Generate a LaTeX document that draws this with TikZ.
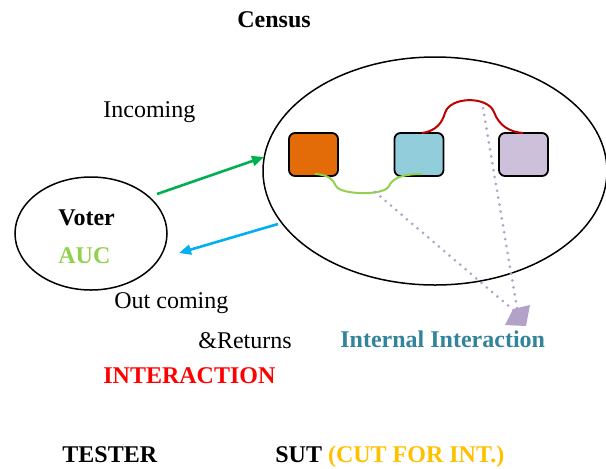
\documentclass[tikz,border=0pt]{standalone}
\usepackage{fontspec}
\setmainfont{Liberation Serif}
\usetikzlibrary{arrows.meta,shapes.geometric}

\definecolor{boxorange}{HTML}{E36C09}
\definecolor{boxblue}{HTML}{92CDDC}
\definecolor{boxlilac}{HTML}{CCC0DA}
\definecolor{linkred}{HTML}{C00000}
\definecolor{linkgreen}{HTML}{92D050}
\definecolor{lavender}{HTML}{B3A2C7}
\definecolor{ingreen}{HTML}{00B050}
\definecolor{outblue}{HTML}{00B0F0}
\definecolor{teal}{HTML}{31849B}
\definecolor{amber}{HTML}{FFC000}
\definecolor{alertred}{HTML}{FF0000}

\tikzset{
  txt/.style={anchor=base west, inner sep=0pt, font=\fontsize{12}{14}\selectfont},
  btxt/.style={txt, font=\fontsize{12}{14}\selectfont\bfseries},
  unit/.style={draw=black, line width=0.9pt, rounded corners=3pt,
               minimum width=24.5pt, minimum height=21.5pt, inner sep=0pt},
  oval/.style={draw=black, line width=0.75pt, ellipse, inner sep=0pt},
  flow/.style={line width=1.3pt, -{Triangle[length=6pt,width=5pt]}},
  wire/.style={line width=1pt},
  dots/.style={lavender, line width=1.5pt, line cap=round, dash pattern=on 0pt off 3.5pt}
}

\begin{document}
\begin{tikzpicture}[x=0.5pt,y=-0.5pt]
  \useasboundingbox (0,0) rectangle (606,468);

  % system under test and tester
  \node[oval, minimum width=172pt, minimum height=114pt] (sut) at (435,171) {};
  \node[oval, minimum width=76pt, minimum height=56.5pt] (tester) at (91,233.5) {};

  % components inside the system
  \node[unit, fill=boxorange] (c1) at (313.5,154.5) {};
  \node[unit, fill=boxblue]   (c2) at (419,154.5) {};
  \node[unit, fill=boxlilac]  (c3) at (523.5,154.5) {};

  % interaction between tester and system
  \coordinate (inS) at (157,194);
  \coordinate (inE) at (264,157);
  \coordinate (outS) at (278,224);
  \coordinate (outE) at (179,253);
  \draw[flow, ingreen] (inS) -- (inE);
  \draw[flow, outblue] (outS) -- (outE);

  % internal links between the components
  \coordinate (rA) at (422,133);
  \coordinate (rB) at (523,133);
  \draw[wire, linkred] (rA) .. controls (436,131) and (442,123) .. (445,113)
        .. controls (450,96) and (488,96) .. (494,112)
        .. controls (499,126) and (510,132) .. (rB);
  \coordinate (gA) at (315,174);
  \coordinate (gB) at (422,174);
  \draw[wire, linkgreen] (gA) .. controls (330,175) and (333,180) .. (336,186)
        .. controls (340,195) and (385,196) .. (389,186)
        .. controls (393,177) and (405,174) .. (gB);

  % dotted pointers to the label
  \coordinate (d1) at (375,192);
  \coordinate (d2) at (483,108);
  \coordinate (tip) at (518,314);
  \draw[dots] (d1) -- (tip);
  \draw[dots] (d2) -- (tip);
  \fill[lavender] (505,325) -- (513,309) -- (530,305) -- (526,326) -- cycle;

  % labels
  \node[btxt] (census) at (237,27) {Census};
  \node[txt] (incoming) at (103,117) {Incoming};
  \node[btxt] (voter) at (58,225) {Voter};
  \node[btxt, text=linkgreen] (auc) at (58,263) {AUC};
  \node[txt] (outcoming) at (114,308) {Out coming};
  \node[txt] (returns) at (198,348) {\&Returns};
  \node[btxt, text=teal] (internal) at (340,347) {Internal Interaction};
  \node[btxt, text=alertred] (interaction) at (103,383) {INTERACTION};
  \node[btxt] (testerlbl) at (62,462) {TESTER};
  \node[btxt] (sutlbl) at (275,462) {SUT \textcolor{amber}{(CUT FOR INT.)}};
\end{tikzpicture}
\end{document}
